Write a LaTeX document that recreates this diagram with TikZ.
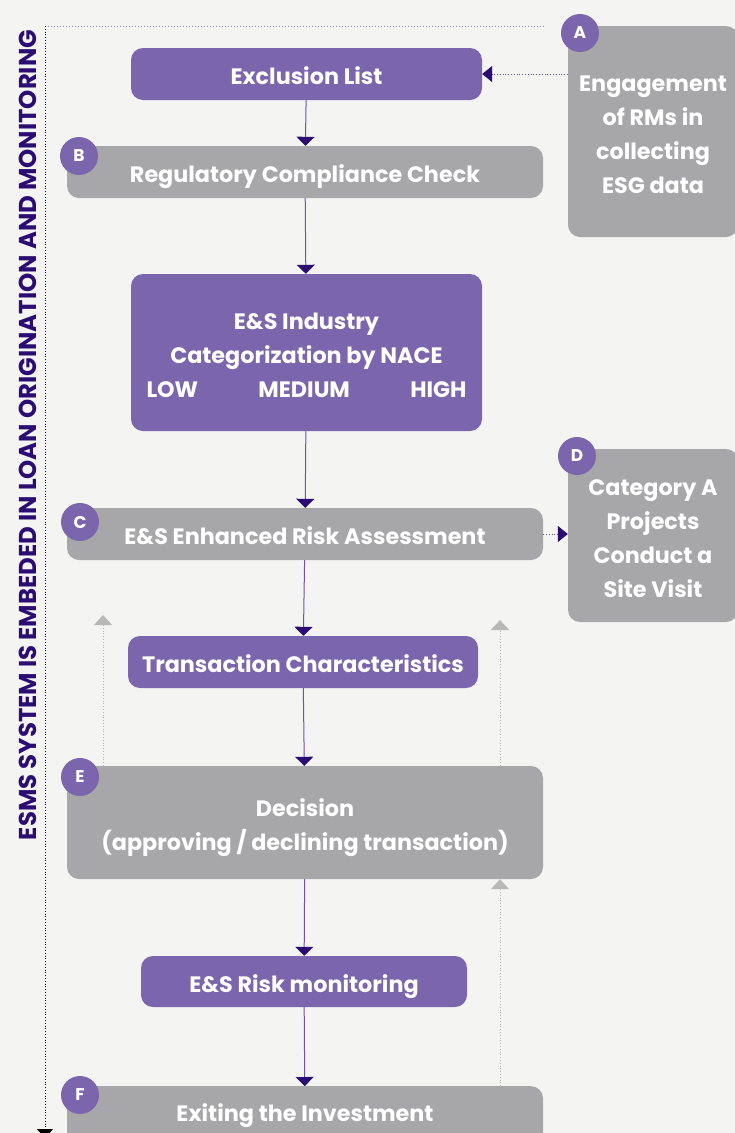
\documentclass[tikz,border=0pt]{standalone}
\usepackage{fontspec}
\setmainfont{Poppins}
\usetikzlibrary{arrows.meta,positioning}

\definecolor{esmspurple}{HTML}{7B65AD}
\definecolor{esmsgrey}{HTML}{A7A7A9}
\definecolor{esmsnavy}{HTML}{2A0C72}
\definecolor{esmsline}{HTML}{6B55A8}
\definecolor{esmsback}{HTML}{B8B8B8}
\definecolor{esmsbg}{HTML}{F4F4F3}

% text of a box, set a little lower than the box centre
\newcommand{\steplift}[1]{\raisebox{-4pt}[\height][\depth]{\begin{tabular}{@{}c@{}}#1\end{tabular}}}

\tikzset{
  stepbox/.style={rounded corners=12pt, inner sep=0pt, text=white,
    font=\bfseries\fontsize{22.3}{34}\selectfont},
  purplebox/.style={stepbox, fill=esmspurple},
  greybox/.style={stepbox, fill=esmsgrey},
  badge/.style={circle, fill=esmspurple, minimum size=38pt, inner sep=0pt,
    text=white, font=\bfseries\fontsize{17}{17}\selectfont},
  flow/.style={esmsline, line width=1pt,
    -{Triangle[width=18pt,length=9pt,color=esmsnavy]}},
  linkdot/.style={esmsline, dotted, line width=0.8pt,
    -{Triangle[width=16pt,length=10pt,color=esmsnavy]}},
  backflow/.style={esmsback, dotted, line width=0.8pt,
    -{Triangle[width=18pt,length=10pt,color=esmsback]}},
}

\begin{document}
\begin{tikzpicture}[x=1pt,y=-1pt]
    \useasboundingbox (0,0) rectangle (735,1133);
    \clip (0,0) rectangle (735,1133);
    \fill[esmsbg] (0,0) rectangle (735,1133);

    % Main flow
    \node[purplebox, minimum width=351pt, minimum height=52pt] (excl) at (306.5,74) {\steplift{Exclusion List}};
    \node[greybox, minimum width=476pt, minimum height=52pt] (regul) at (305,172) {\steplift{Regulatory Compliance Check}};
    \node[purplebox, minimum width=351pt, minimum height=157pt] (nace) at (306.5,352.5)
      {\steplift{E\&S Industry\\Categorization by NACE\\\makebox[320pt]{LOW\hfill MEDIUM\hfill HIGH}}};
    \node[greybox, minimum width=476pt, minimum height=52pt] (enhanced) at (305,534) {\steplift{E\&S Enhanced Risk Assessment}};
    \node[purplebox, minimum width=350pt, minimum height=52pt] (trans) at (303,662) {\steplift{Transaction Characteristics}};
    \node[greybox, minimum width=476pt, minimum height=113pt] (decision) at (305,822.5)
      {\steplift{Decision\\(approving / declining transaction)}};
    \node[purplebox, minimum width=326pt, minimum height=51pt] (monitor) at (304,981.5) {\steplift{E\&S Risk monitoring}};
    \node[greybox, minimum width=476pt, minimum height=70pt, anchor=north] (exit) at (305,1086) {};
    \node[text=white, font=\bfseries\fontsize{22.3}{34}\selectfont] (exittext) at (305,1116) {Exiting the Investment};

    % Side boxes
    \node[greybox, minimum width=170pt, minimum height=211pt] (engage) at (653,131.5)
      {\steplift{Engagement\\of RMs in\\collecting\\ESG data}};
    \node[greybox, minimum width=170pt, minimum height=173pt] (site) at (653,535.5)
      {\steplift{Category A\\Projects\\Conduct a\\Site Visit}};

    % Badges
    \node[badge] (badgeA) at (580,33) {A};
    \node[badge] (badgeB) at (79,156) {B};
    \node[badge] (badgeC) at (80,522) {C};
    \node[badge] (badgeD) at (577,456) {D};
    \node[badge] (badgeE) at (80,777) {E};
    \node[badge] (badgeF) at (80,1095) {F};

    % Flow arrows
    \draw[flow] (excl) -- (regul);
    \draw[flow] (regul) -- (nace);
    \draw[flow] (nace) -- (enhanced);
    \draw[flow] (enhanced) -- (trans);
    \draw[flow] (trans) -- (decision);
    \draw[flow] (decision) -- (monitor);
    \draw[flow] (monitor) -- (exit);

    % Side links
    \draw[linkdot] (engage.west |- excl.east) -- (excl.east);
    \draw[linkdot] (enhanced.east) -- (enhanced.east -| site.west);

    % Feedback arrows
    \coordinate (backL) at (103,615);
    \coordinate (backR) at (500,620);
    \draw[backflow] (backL |- decision.north) -- (backL);
    \draw[backflow] (backR |- decision.north) -- (backR);
    \draw[backflow] (backR |- exit.north) -- (backR |- decision.south);

    % Frame of the process
    \coordinate (corner) at (45,26);
    \coordinate (topend) at (545,26);
    \coordinate (bottomend) at (45,1138);
    \draw[esmsline!70, dotted, line width=1pt] (corner) -- (topend);
    \draw[black, dotted, line width=0.8pt, -{Triangle[width=16pt,length=9pt]}] (corner) -- (bottomend);
    \node[rotate=90, text=esmsnavy, font=\bfseries\fontsize{24.4}{24}\selectfont] (frametitle) at (28,435)
      {ESMS SYSTEM IS EMBEDED IN LOAN ORIGINATION AND MONITORING};
\end{tikzpicture}
\end{document}
